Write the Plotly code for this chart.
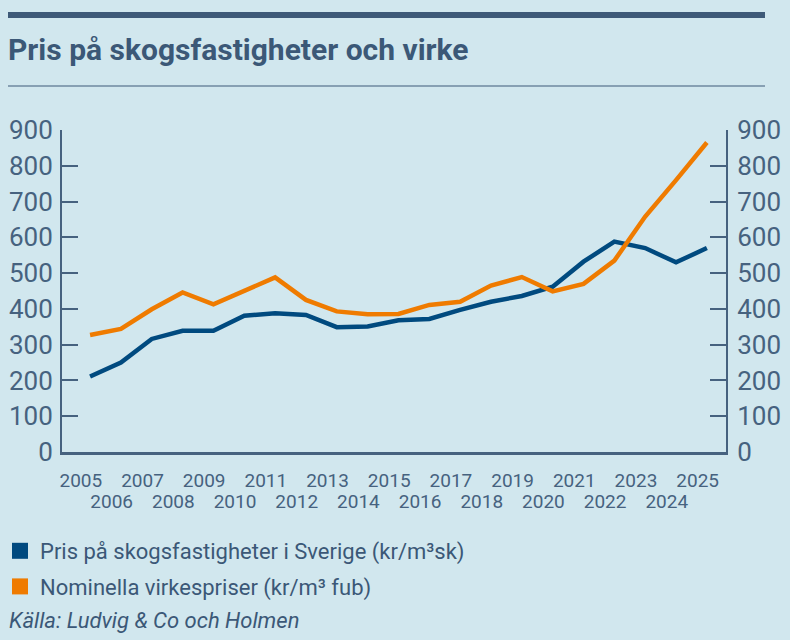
import plotly.graph_objects as go

years = list(range(2005, 2026))
skog = [211, 250, 316, 339, 339, 381, 388, 383, 349, 351, 368, 372, 397, 420, 436, 462, 532, 588, 570, 530, 570]
virke = [327, 344, 399, 446, 413, 451, 488, 425, 393, 385, 386, 411, 420, 465, 489, 449, 470, 535, 658, 760, 865]
ytick_vals = [0, 100, 200, 300, 400, 500, 600, 700, 800, 900]
odd_years = [y for y in years if y % 2 == 1]
even_years = [y for y in years if y % 2 == 0]

name_skog = "Pris på skogsfastigheter i Sverige (kr/m³sk)"
name_virke = "Nominella virkespriser (kr/m³ fub)"
title = "Pris på skogsfastigheter och virke"
source = "Källa: Ludvig & Co och Holmen"

BG = "#d1e7ee"
AX = "#46627f"
TXT = "#3b5877"
BLUE = "#004a7f"
ORANGE = "#ef7b00"
FONT = "Roboto"
LABEL_SHIFT = 0.3  # year labels sit slightly left of the data points in the original

W, H = 790, 640
L, R, T, B = 62, 64, 130, 188
PW, PH = W - L - R, H - T - B


def px_x(p):
    return (p - L) / PW


def px_y(p):
    return (H - B - p) / PH


fig = go.Figure()
fig.add_trace(go.Scatter(x=years, y=skog, mode="lines", line=dict(color=BLUE, width=4.5),
                         showlegend=False, name=name_skog))
fig.add_trace(go.Scatter(x=years, y=virke, mode="lines", line=dict(color=ORANGE, width=4.5),
                         showlegend=False, name=name_virke))
# legend entries (square swatches)
fig.add_trace(go.Scatter(x=[None], y=[None], mode="markers", name=name_skog, legendgroup="a",
                         marker=dict(symbol="square", color=BLUE, size=19)))
fig.add_trace(go.Scatter(x=[None], y=[None], mode="markers", name=name_virke, legendgroup="b",
                         marker=dict(symbol="square", color=ORANGE, size=19)))
# dummies for secondary axes
fig.add_trace(go.Scatter(x=[None], y=[None], yaxis="y2", showlegend=False, hoverinfo="skip"))
fig.add_trace(go.Scatter(x=[None], y=[None], xaxis="x2", showlegend=False, hoverinfo="skip"))

axis_common = dict(range=[0, 900], tickvals=ytick_vals, ticks="inside", ticklen=16, tickwidth=2,
                   tickcolor=AX, showline=True, linecolor=AX, linewidth=2, showgrid=False,
                   zeroline=False, tickfont=dict(family=FONT, size=26, color=AX), fixedrange=True)
xcommon = dict(range=[2004.09, 2025.62], ticks="", showgrid=False, zeroline=False,
               tickfont=dict(family=FONT, size=19, color=AX), tickangle=0, fixedrange=True)

fig.update_layout(
    width=W, height=H,
    margin=dict(l=L, r=R, t=T, b=B, autoexpand=False),
    paper_bgcolor=BG, plot_bgcolor=BG,
    title=dict(text="<b>" + title + "</b>", x=8 / W, xref="container", xanchor="left",
               y=1 - 49 / H, yref="container", yanchor="middle",
               font=dict(family=FONT, size=30, color=TXT)),
    xaxis=dict(tickvals=[y - LABEL_SHIFT for y in odd_years], ticktext=[str(y) for y in odd_years],
               showline=True, linecolor=AX, linewidth=2.5, ticklabelstandoff=9, **xcommon),
    xaxis2=dict(overlaying="x", side="bottom", anchor="y", matches="x",
                tickvals=[y - LABEL_SHIFT for y in even_years], ticktext=[str(y) for y in even_years],
                showline=False, ticklabelstandoff=36, **xcommon),
    yaxis=dict(side="left", ticklabelstandoff=2, **axis_common),
    yaxis2=dict(side="right", overlaying="y", ticklabelstandoff=4, **axis_common),
    legend=dict(x=px_x(0), y=px_y(530), xanchor="left", yanchor="top", bgcolor="rgba(0,0,0,0)",
                font=dict(family=FONT, size=22, color=TXT), tracegroupgap=4,
                itemsizing="trace"),
    shapes=[
        dict(type="line", xref="paper", yref="paper", x0=px_x(8), x1=px_x(765), y0=px_y(15), y1=px_y(15),
             line=dict(color="#3e5a78", width=6)),
        dict(type="line", xref="paper", yref="paper", x0=px_x(8), x1=px_x(765), y0=px_y(86), y1=px_y(86),
             line=dict(color="#3e5a78", width=1.2)),
    ],
    annotations=[
        dict(text="<i>" + source + "</i>", xref="paper", yref="paper", x=px_x(7), y=px_y(620),
             xanchor="left", yanchor="middle", showarrow=False,
             font=dict(family=FONT, size=22, color=TXT)),
    ],
)

fig.write_html("out.html", config={"displayModeBar": False},
               post_script="document.body.style.margin='0';document.body.style.overflow='hidden';")
